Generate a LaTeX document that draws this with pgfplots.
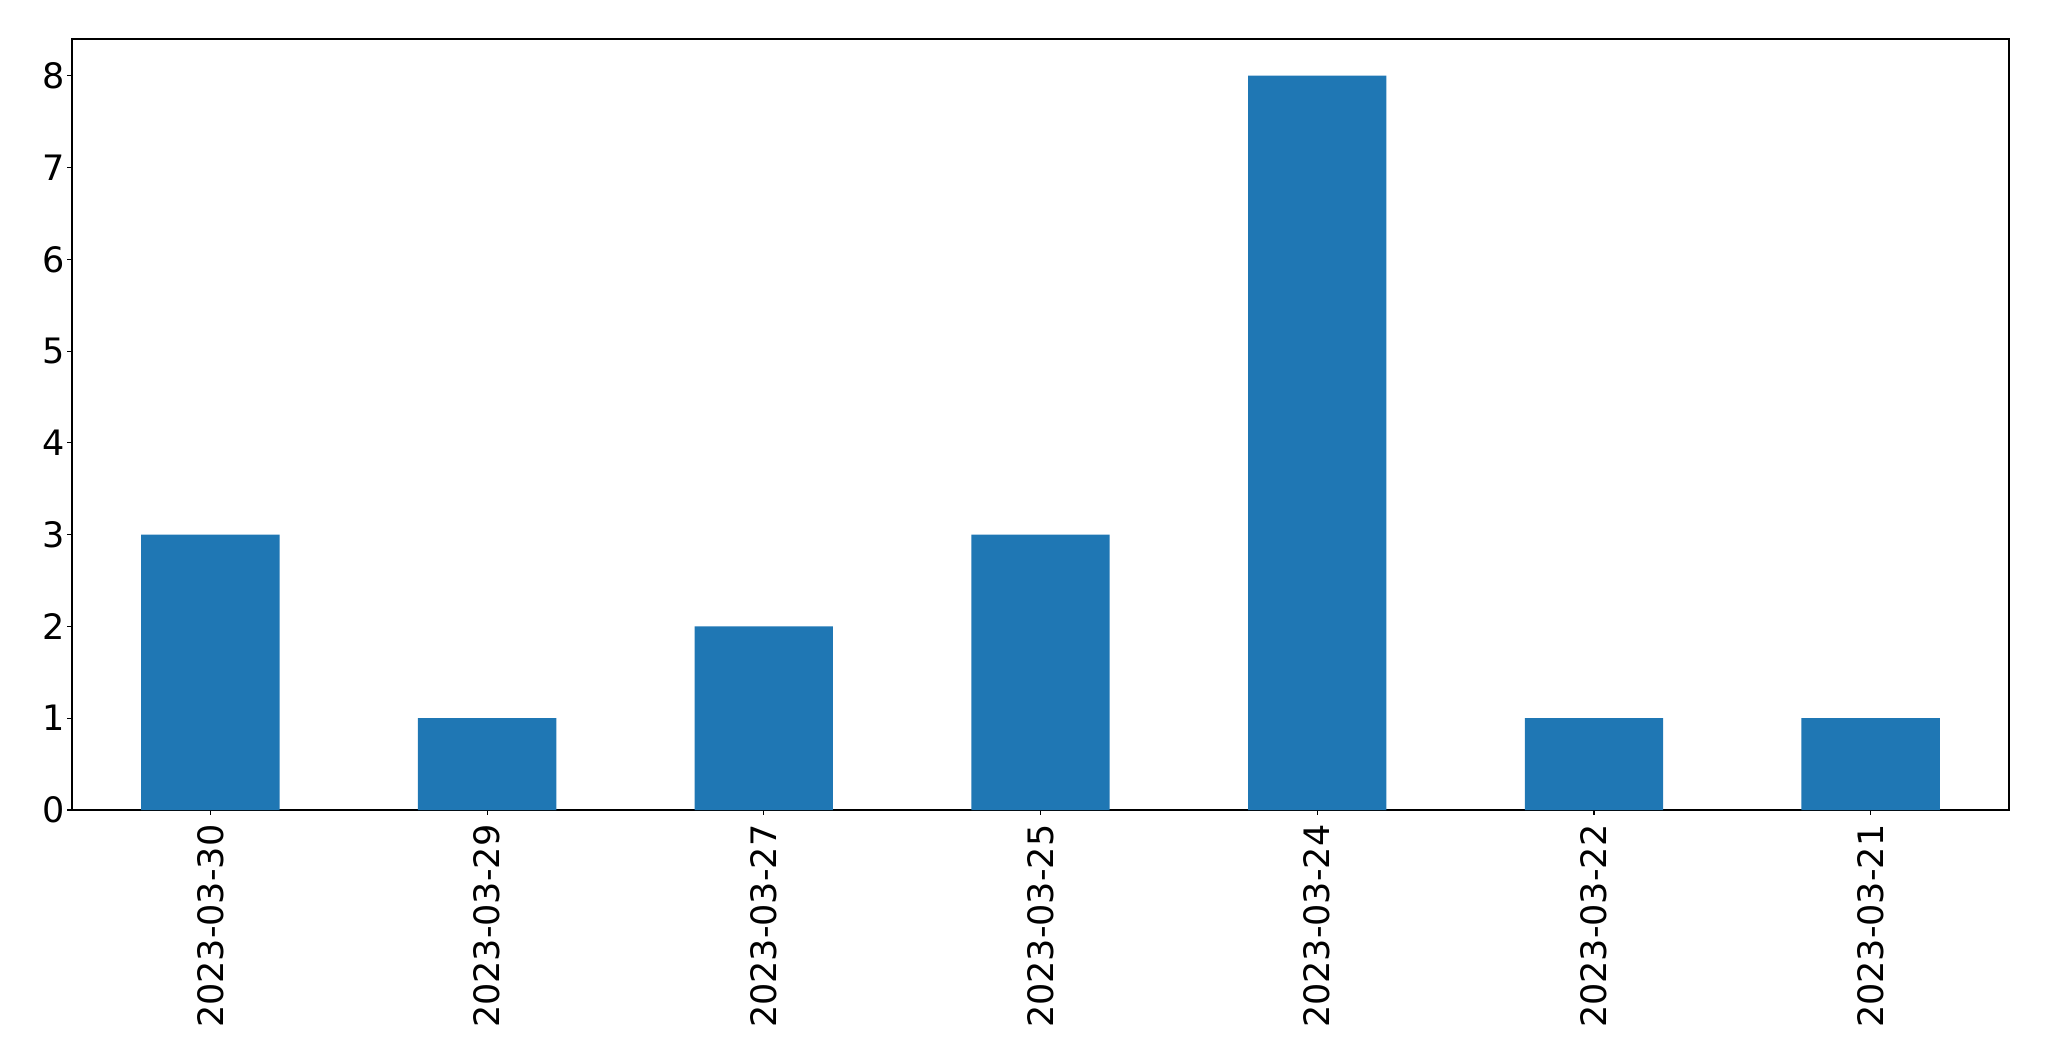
\documentclass[border=0pt]{standalone}
\usepackage{pgfplots}
\pgfplotsset{compat=1.18}
\usepackage{fontspec}
\setmainfont{DejaVu Sans}
\definecolor{mplblue}{HTML}{1F77B4}
\begin{document}
\begin{tikzpicture}
\useasboundingbox (-25.92pt,-90.36pt) rectangle (711.72pt,291.6pt);
\begin{axis}[
 at={(0pt,0pt)}, anchor=south west,
 scale only axis, width=697.32pt, height=277.56pt,
 xmin=-0.5, xmax=6.5, ymin=0, ymax=8.4,
 xtick={0,1,2,3,4,5,6},
 xticklabels={2023-03-30,2023-03-29,2023-03-27,2023-03-25,2023-03-24,2023-03-22,2023-03-21},
 x tick label style={rotate=90, anchor=east},
 y tick label style={xshift=2.5pt},
 ytick={0,1,2,3,4,5,6,7,8},
 tick style={black, line width=0.4pt},
 major tick length=1.7pt,
 tick align=outside,
 xtick pos=bottom, ytick pos=left,
 axis line style={line width=0.45pt},
 tick label style={font=\fontsize{12.6}{14}\selectfont},
 /pgf/number format/assume math mode=true,
]
\addplot[ybar, bar width=0.5, fill=mplblue, draw=none] coordinates {(0,3) (1,1) (2,2) (3,3) (4,8) (5,1) (6,1)};
\end{axis}
\end{tikzpicture}
\end{document}
